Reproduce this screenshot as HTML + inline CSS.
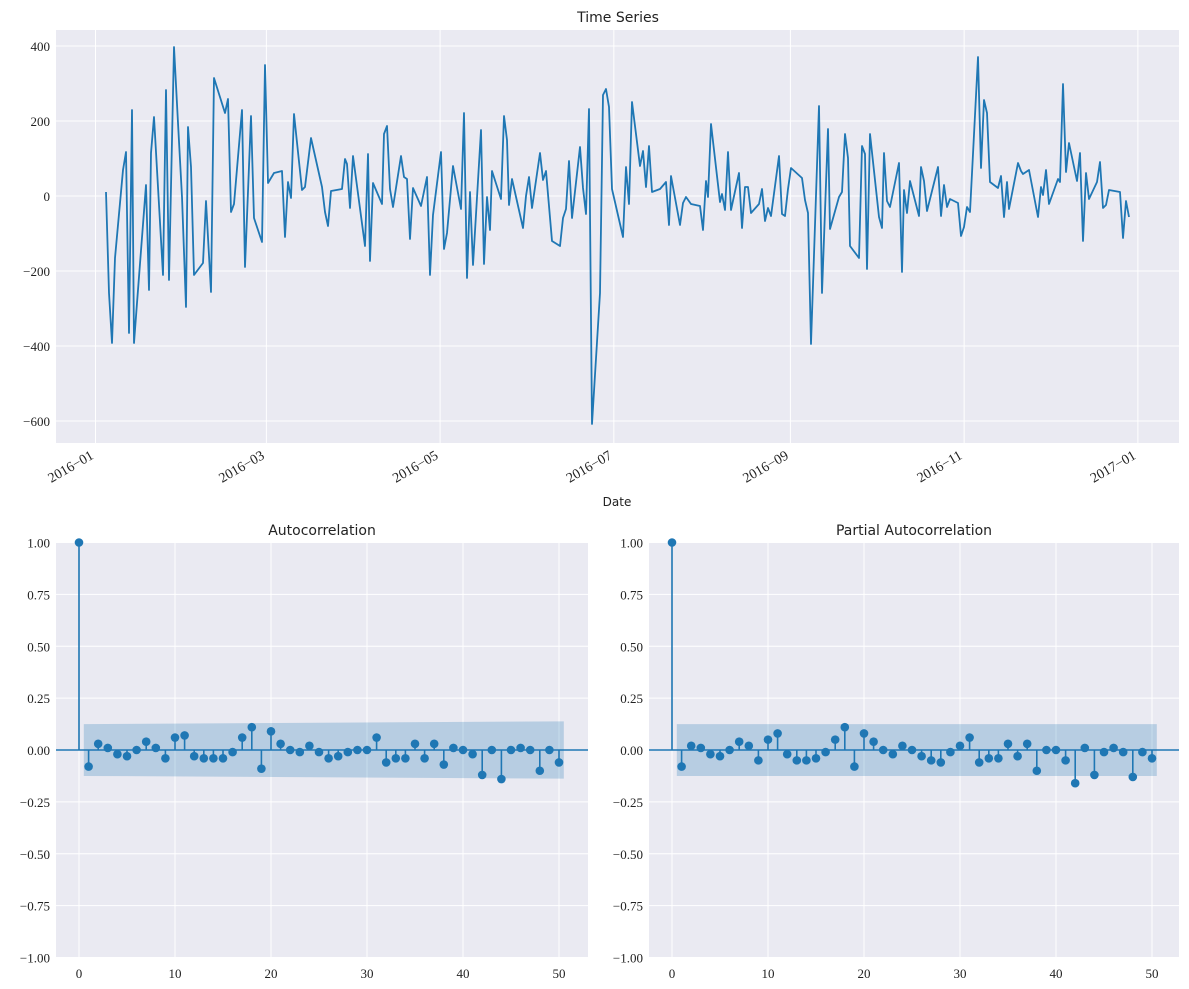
<!DOCTYPE html><html><head><meta charset="utf-8"><style>body{margin:0;background:#fff}svg{display:block}</style></head><body>
<svg id="s" width="1189" height="989" xmlns="http://www.w3.org/2000/svg"></svg>
<script>
var s=document.getElementById('s'),h='';
var SF='"Liberation Serif",serif',SS='"DejaVu Sans","Liberation Sans",sans-serif';
function R(x,y,w,hh,f){h+='<rect x="'+x+'" y="'+y+'" width="'+w+'" height="'+hh+'" fill="'+f+'"/>';}
function L(x1,y1,x2,y2,c,w){h+='<line x1="'+x1+'" y1="'+y1+'" x2="'+x2+'" y2="'+y2+'" stroke="'+c+'" stroke-width="'+w+'"/>';}
function T(x,y,t,a,f,sz,extra){h+='<text x="'+x+'" y="'+y+'" text-anchor="'+a+'" font-family=\''+f+'\' font-size="'+sz+'" fill="#222" '+(extra||'')+'>'+t+'</text>';}
var B='#1f77b4';
R(56,30,1123,413,'#eaeaf2');
var months=[[0,'2016−01'],[60,'2016−03'],[121,'2016−05'],[182,'2016−07'],[244,'2016−09'],[305,'2016−11'],[366,'2017−01']];
months.forEach(function(m){var x=95.5+m[0]*2.848;L(x,30,x,443,'#fff',1);
 h+='<text x="'+(x-1)+'" y="458" text-anchor="end" font-family=\''+SF+'\' font-size="14" fill="#222" transform="rotate(-30 '+(x-1)+' 458)">'+m[1]+'</text>';});
[400,200,0,-200,-400,-600].forEach(function(v){var y=196-v*0.375;L(56,y,1179,y,'#fff',1);T(50,y+5,(v<0?'−':'')+Math.abs(v),'end',SF,13);});
var P=[106,192,109,293,112,343,115,258,123,170,126,152,129,333,132,110,134,343,137,303,146,185,149,290,151,153,154,117,163,275,166,90,169,280,174,47,178,123,182,197,186,307,188,127,191,167,194,275,203,263,206,201,211,292,214,78,225,113,228,99,231,212,234,204,242,110,245,267,251,116,254,218,262,242,265,65,268,183,274,173,282,171,285,237,288,182,291,198,294,114,302,190,305,187,311,138,322,187,325,212,328,226,331,191,342,189,345,159,347,164,350,208,353,156,365,246,368,154,370,261,373,183,382,204,384,134,387,126,390,189,393,207,401,156,404,177,407,179,410,239,413,188,421,206,427,177,430,275,433,215,441,152,444,249,447,233,453,166,461,209,464,113,467,278,470,192,473,265,481,130,484,264,487,197,490,230,492,171,501,199,504,116,507,140,509,205,512,179,523,228,526,196,529,177,532,208,540,153,543,180,546,171,552,241,560,246,563,218,566,209,569,161,572,218,580,147,583,188,586,214,589,109,592,424,600,293,603,95,606,89,609,107,612,189,623,237,626,167,629,204,632,102,640,166,643,151,646,187,649,146,652,192,660,189,666,182,669,225,671,176,680,225,683,203,686,197,691,204,700,206,703,230,706,181,708,197,711,124,720,202,722,194,725,210,728,152,731,210,739,173,742,228,745,187,748,187,751,213,759,204,762,189,765,221,768,208,771,216,779,156,782,214,785,216,788,189,791,168,802,178,805,200,808,213,811,344,819,106,822,293,828,129,830,229,839,197,842,192,845,134,848,158,850,246,859,258,862,146,865,154,867,269,870,134,879,217,882,228,884,153,887,201,890,207,899,163,902,272,904,190,907,213,910,181,919,216,921,167,924,181,927,211,938,167,941,216,944,185,947,207,950,199,958,203,961,236,964,227,967,207,970,212,978,57,981,168,984,100,987,113,990,182,998,188,1001,176,1004,217,1007,182,1009,209,1018,163,1021,171,1023,174,1029,170,1038,217,1041,187,1043,195,1046,170,1049,204,1058,179,1060,182,1063,84,1066,172,1069,143,1077,181,1080,153,1083,241,1086,173,1089,199,1097,182,1100,162,1103,208,1106,205,1109,190,1120,192,1123,238,1126,201,1129,217];
var pts='';for(var i=0;i<P.length;i+=2)pts+=P[i]+','+P[i+1]+' ';
h+='<polyline points="'+pts+'" fill="none" stroke="'+B+'" stroke-width="1.8" stroke-linejoin="round"/>';
T(618,22,'Time Series','middle',SS,14);
T(617,506,'Date','middle',SS,12);
var acf=[1,-0.08,0.03,0.01,-0.02,-0.03,0,0.04,0.01,-0.04,0.06,0.07,-0.03,-0.04,-0.04,-0.04,-0.01,0.06,0.11,-0.09,0.09,0.03,0,-0.01,0.02,-0.01,-0.04,-0.03,-0.01,0,0,0.06,-0.06,-0.04,-0.04,0.03,-0.04,0.03,-0.07,0.01,0,-0.02,-0.12,0,-0.14,0,0.01,0,-0.1,0,-0.06];
var pacf=[1,-0.08,0.02,0.01,-0.02,-0.03,0,0.04,0.02,-0.05,0.05,0.08,-0.02,-0.05,-0.05,-0.04,-0.01,0.05,0.11,-0.08,0.08,0.04,0,-0.02,0.02,0,-0.03,-0.05,-0.06,-0.01,0.02,0.06,-0.06,-0.04,-0.04,0.03,-0.03,0.03,-0.1,0,0,-0.05,-0.16,0.01,-0.12,-0.01,0.01,-0.01,-0.13,-0.01,-0.04];
function panel(x0,x1,z,vals,title,b0,b1){
 R(x0,543,x1-x0,415,'#eaeaf2');
 var sx=function(l){return z+l*9.6;},sy=function(v){return 750-v*207.5;};
 for(var l=0;l<=50;l+=10){L(sx(l),543,sx(l),958,'#fff',1);T(sx(l),978,l,'middle',SF,13);}
 for(var v=-1;v<=1.001;v+=0.25){var y=sy(v);L(x0,y,x1,y,'#fff',1);T(x0-6,y+5,(v<-0.001?'−':'')+Math.abs(v).toFixed(2),'end',SF,13);}
 h+='<polygon points="'+sx(0.5)+','+sy(b0)+' '+sx(50.5)+','+sy(b1)+' '+sx(50.5)+','+sy(-b1)+' '+sx(0.5)+','+sy(-b0)+'" fill="'+B+'" fill-opacity="0.25"/>';
 L(x0,750,x1,750,B,1.6);
 vals.forEach(function(v,l){L(sx(l),750,sx(l),sy(v),B,1.6);h+='<circle cx="'+sx(l)+'" cy="'+sy(v)+'" r="4.3" fill="'+B+'"/>';});
 T((x0+x1)/2,535,title,'middle',SS,14);
}
panel(56,588,79,acf,'Autocorrelation',0.125,0.138);
panel(649,1179,672,pacf,'Partial Autocorrelation',0.125,0.125);
s.innerHTML=h;
</script></body></html>
